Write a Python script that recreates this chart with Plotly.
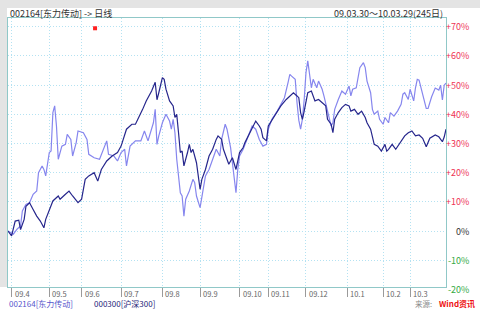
import plotly.graph_objects as go

# ---------------- data (trading-day index from 2009-03-30, cumulative % change) -------------
hs300_day = [0, 2, 4, 6, 7, 9, 10, 12, 14, 16, 18, 20, 21, 23, 25, 28, 29, 32, 34, 36, 39, 41, 43, 45,
             48, 50, 52, 55, 58, 61, 63, 66, 69, 71, 73, 75, 77, 80, 82, 83, 84, 86, 87, 88, 90, 92,
             93, 94, 95, 96, 97, 98, 100, 101, 102, 103, 105, 106, 107, 108, 110, 112, 114, 116, 117,
             119, 120, 122, 123, 125, 127, 129, 131, 132, 134, 136, 138, 140, 141, 142, 144, 145, 148,
             150, 152, 155, 157, 159, 161, 162, 163, 164, 165, 166, 167, 169, 170, 171, 173, 175, 177,
             178, 180, 181, 182, 184, 186, 188, 190, 191, 193, 195, 197, 199, 200, 202, 204, 206, 208,
             210, 211, 212, 214, 216, 218, 220, 221, 223, 225, 227, 229, 231, 233, 235, 238, 240, 242,
             243, 244]
hs300_pct = [0, -1.7, 3.4, 3.7, 0.5, 4, 8.5, 9.7, 7.4, 5.1, 3.4, 1.1, 4, 7.4, 10.3, 12, 10.9, 12.6,
             13.7, 12, 9.7, 10.9, 17.7, 18.9, 20, 17.1, 21.1, 24, 25.7, 26.9, 29.1, 34.9, 36.6, 36.6,
             38.9, 41.7, 44.6, 48, 51, 45, 47.4, 52.6, 52, 48.6, 44.6, 42.9, 38.9, 40, 33.7, 26.9, 27.4,
             22.3, 26.9, 29.7, 26.9, 28, 23.4, 17.7, 14.3, 17.7, 21.1, 25.7, 28, 31.4, 32.6, 31.4, 28,
             24.6, 22.9, 25.1, 21.1, 26.9, 28.6, 30.3, 32.6, 34.9, 37.7, 36, 34.9, 32, 30.9, 36, 38.9,
             40.6, 42.9, 45.1, 46.3, 47.4, 46.3, 45.7, 40.6, 38.3, 41.1, 44.6, 47.4, 48, 46.3, 44.6,
             45.1, 44, 42.9, 38.3, 36.6, 33.7, 38.3, 40.6, 42.3, 43.4, 42.9, 41.1, 41.7, 40, 41.1, 38.9,
             37.1, 34.9, 29.7, 29.1, 27.4, 29.7, 27.4, 28, 29.7, 28, 29.7, 31.4, 32.6, 33.7, 34.3, 32.6,
             32.9, 31.8, 28.9, 31.8, 32.9, 32.3, 30.6, 32.2, 34.9]

dl_day = [0, 3, 5, 7, 8, 10, 12, 14, 16, 17, 19, 20, 21, 23, 24, 25, 26, 27, 28, 30, 32, 33, 35, 36,
          38, 39, 42, 44, 45, 48, 51, 53, 55, 56, 59, 61, 63, 65, 66, 68, 71, 74, 76, 78, 81, 82, 83,
          84, 86, 88, 90, 91, 92, 93, 94, 96, 97, 98, 99, 101, 103, 104, 105, 107, 108, 110, 112, 114,
          116, 118, 119, 121, 122, 124, 125, 126, 127, 128, 129, 131, 132, 134, 136, 138, 140, 142,
          144, 145, 147, 150, 152, 154, 156, 157, 158, 160, 161, 162, 163, 164, 165, 166, 167, 169,
          170, 172, 173, 175, 176, 178, 179, 180, 181, 182, 184, 186, 188, 190, 191, 192, 194, 195,
          196, 198, 199, 200, 202, 203, 204, 206, 207, 209, 210, 212, 213, 215, 217, 219, 220, 221,
          223, 224, 226, 227, 228, 229, 231, 233, 234, 236, 238, 240, 241, 242, 243, 244]
dl_pct = [0, -1.1, 0.6, 1.7, 6.9, 9.1, 9.7, 12.6, 13.7, 20, 22.3, 21.1, 18.9, 26.9, 27.4, 40.6, 42.9,
          36, 24.6, 29.1, 29.7, 33.1, 31.4, 25.7, 30.3, 34.3, 33.7, 31.4, 26.3, 25.1, 24.6, 28, 30.9,
          26.3, 25.7, 24, 26.9, 28, 22.3, 29.1, 30.9, 30.9, 34.3, 30.9, 37.1, 41.7, 29.7, 32.6, 37.1,
          40, 37.7, 34.9, 38.3, 33.7, 24.6, 13.1, 12, 5.1, 10.9, 13.7, 17.7, 16.6, 12, 8, 12, 18.9,
          21.1, 24.6, 28, 25.7, 31.4, 36.6, 34.9, 28.6, 23.4, 18.9, 13.1, 21.1, 25.7, 28, 29.7, 32.6,
          36, 34.9, 31.4, 29.1, 29.7, 34.9, 38.3, 41.1, 43.4, 45.7, 50.9, 53.7, 53.1, 52, 44, 38,
          34.9, 38.3, 45.1, 54.3, 58.3, 49.1, 52, 49.1, 51.4, 48.6, 46.3, 40.6, 38.3, 36, 37.1, 41.7,
          45.1, 48, 46.9, 49.7, 46.3, 48.6, 49.1, 52, 56, 57.7, 56, 51.4, 47.4, 41.7, 40, 41.1, 38.3,
          36.6, 38.9, 37.1, 40.6, 39.4, 41.1, 43.4, 46.9, 47.4, 45.1, 48.6, 44.6, 49.1, 52, 51.7, 47,
          42, 42, 46, 49, 48.3, 50, 44.9, 50, 50.7]

month_idx = [2, 23, 41, 63, 86, 107, 129, 145, 166, 189, 209, 224]
month_lbl = ["09.4", "09.5", "09.6", "09.7", "09.8", "09.9", "09.10", "09.11", "09.12",
             "10.1", "10.2", "10.3"]

pct_ticks = [70, 60, 50, 40, 30, 20, 10, 0, -10, -20]
pct_lbl = ["+70%", "+60%", "+50%", "+40%", "+30%", "+20%", "+10%", "0%", "-10%", "-20%"]

flag_day = [48.5]
flag_pct = [69.5]

# ---------------- figure ----------------
FONT = "Noto Sans CJK SC, sans-serif"
W, H = 480, 309
L, R, T, B = 8, 34, 18, 22
pw, ph = W - L - R, H - T - B
Y_RANGE = [(231 - 287) / 2.917, (231 - 18) / 2.917]


def px_x(X):
    return (X - L) / pw


def px_y(Y):
    return (H - B - Y) / ph


def val_to_paper(v):
    # position of a value on the y axis scale, as a fraction of the plot height
    return (v - Y_RANGE[0]) / (Y_RANGE[1] - Y_RANGE[0])


fig = go.Figure()
fig.add_trace(go.Scatter(x=dl_day, y=dl_pct, mode="lines",
                         line=dict(color="#8686ee", width=1.2), name="002164"))
fig.add_trace(go.Scatter(x=hs300_day, y=hs300_pct, mode="lines",
                         line=dict(color="#26268c", width=1.2), name="000300"))
fig.add_trace(go.Scatter(x=flag_day, y=flag_pct, mode="markers",
                         marker=dict(symbol="square", size=4, color="#ff2020"), name="flag"))

ann = []
# title row
ann.append(dict(text="002164[东力传动] -> 日线", x=px_x(8), y=px_y(13), xref="paper", yref="paper",
                xanchor="left", yanchor="middle", showarrow=False,
                font=dict(family=FONT, size=9, color="#333333")))
ann.append(dict(text="09.03.30～10.03.29(245日)", x=px_x(445), y=px_y(13), xref="paper", yref="paper",
                xanchor="right", yanchor="middle", showarrow=False,
                font=dict(family=FONT, size=9, color="#333333")))
# right percentage labels
for v, t in zip(pct_ticks, pct_lbl):
    col = "#ee3355" if v > 0 else ("#333333" if v == 0 else "#33aa44")
    ann.append(dict(text=t, x=px_x(471), y=val_to_paper(v), xref="paper", yref="paper",
                    xanchor="right", yanchor="middle", showarrow=False,
                    font=dict(family=FONT, size=9, color=col)))
# x tick labels
for d, t in zip(month_idx, month_lbl):
    ann.append(dict(text=t, x=d, y=px_y(293.5), xref="x", yref="paper", xanchor="left",
                    yanchor="middle", xshift=1, showarrow=False,
                    font=dict(family=FONT, size=7.5, color="#666666")))
# bottom legend / source
BOT = 303
ann.append(dict(text="002164[东力传动]", x=px_x(7), y=px_y(BOT), xref="paper", yref="paper",
                xanchor="left", yanchor="middle", showarrow=False,
                font=dict(family=FONT, size=8, color="#5555cc")))
ann.append(dict(text="000300[沪深300]", x=px_x(92), y=px_y(BOT), xref="paper", yref="paper",
                xanchor="left", yanchor="middle", showarrow=False,
                font=dict(family=FONT, size=8, color="#222277")))
ann.append(dict(text="来源:", x=px_x(434), y=px_y(BOT), xref="paper", yref="paper",
                xanchor="right", yanchor="middle", showarrow=False,
                font=dict(family=FONT, size=7.5, color="#888888")))
ann.append(dict(text="<b>Wind资讯</b>", x=px_x(437), y=px_y(BOT), xref="paper", yref="paper",
                xanchor="left", yanchor="middle", showarrow=False,
                font=dict(family=FONT, size=8, color="#ee1111")))

shapes = [
    dict(type="rect", xref="paper", yref="paper", x0=px_x(0), x1=px_x(7), y0=px_y(287), y1=px_y(0),
         fillcolor="#e4e4e4", line=dict(width=0), layer="below"),
    dict(type="rect", xref="paper", yref="paper", x0=px_x(0), x1=px_x(480), y0=px_y(8), y1=px_y(0),
         fillcolor="#e4e4e4", line=dict(width=0), layer="below"),
]

GRID = "#b4e2f2"
fig.update_layout(
    width=W, height=H, autosize=False,
    margin=dict(l=L, r=R, t=T, b=B, pad=0),
    paper_bgcolor="white", plot_bgcolor="white",
    showlegend=False,
    annotations=ann, shapes=shapes,
    xaxis=dict(range=[0, 244], tickvals=month_idx, ticktext=month_lbl, showticklabels=False,
               ticks="outside", ticklen=9, tickcolor="#9a9a9a", tickwidth=1,
               showgrid=True, gridcolor=GRID, griddash="1px,2px", gridwidth=1,
               showline=True, mirror=True, linecolor="#90c8c8", linewidth=1, zeroline=False,
               fixedrange=True),
    yaxis=dict(range=Y_RANGE, tickvals=pct_ticks,
               showticklabels=False, ticks="",
               showgrid=True, gridcolor=GRID, griddash="1px,2px", gridwidth=1,
               showline=True, mirror=True, linecolor="#90c8c8", linewidth=1, zeroline=False,
               fixedrange=True),
)

fig.write_html("out.html", config={"displayModeBar": False})

# remove the default page margin so the figure sits at the window's top-left corner
with open("out.html", "r", encoding="utf-8") as f:
    html = f.read()
html = html.replace("<head>", "<head><style>html,body{margin:0;padding:0;overflow:hidden;}</style>", 1)
with open("out.html", "w", encoding="utf-8") as f:
    f.write(html)
